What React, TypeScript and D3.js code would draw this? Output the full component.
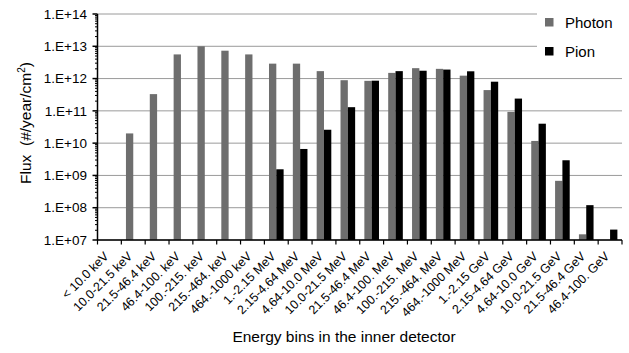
import React from 'react';
import * as d3 from 'd3';

const categories = [
  '< 10.0 keV', '10.0-21.5 keV', '21.5-46.4 keV', '46.4-100. keV', '100.-215. keV',
  '215.-464. keV', '464.-1000 keV', '1.-2.15 MeV', '2.15-4.64 MeV', '4.64-10.0 MeV',
  '10.0-21.5 MeV', '21.5-46.4 MeV', '46.4-100. MeV', '100.-215. MeV', '215.-464. MeV',
  '464.-1000 MeV', '1.-2.15 GeV', '2.15-4.64 GeV', '4.64-10.0 GeV', '10.0-21.5 GeV',
  '21.5-46.4 GeV', '46.4-100. GeV',
];

const photon: (number | null)[] = [
  null, 2.0e10, 3.3e11, 5.6e12, 1.0e13, 7.3e12, 5.6e12, 2.9e12, 2.9e12, 1.7e12, 8.9e11,
  8.5e11, 1.5e12, 2.1e12, 2.0e12, 1.23e12, 4.4e11, 9.3e10, 1.17e10, 6.8e8, 1.5e7, null,
];

const pion: (number | null)[] = [
  null, null, null, null, null, null, null, 1.55e9, 6.6e9, 2.6e10, 1.3e11,
  8.6e11, 1.7e12, 1.75e12, 1.9e12, 1.68e12, 8.0e11, 2.4e11, 4.0e10, 2.95e9, 1.2e8, 2.1e7,
];

const yTicks = [1e7, 1e8, 1e9, 1e10, 1e11, 1e12, 1e13, 1e14];
const yTickLabels = ['1.E+07', '1.E+08', '1.E+09', '1.E+10', '1.E+11', '1.E+12', '1.E+13', '1.E+14'];

const seriesNames = ['Photon', 'Pion'];
const seriesColors = ['#6e6e6e', '#000000'];

const FONT = 'Arial, "Liberation Sans", sans-serif';

const W = 629;
const H = 353;
const plot = { left: 97.5, right: 622, top: 14, bottom: 240 };
const legendLeft = 537;

export default function App() {
  const x = d3.scaleBand<string>().domain(categories).range([plot.left, plot.right]).padding(0);
  const xs = d3
    .scaleBand<string>()
    .domain(seriesNames)
    .range([0, x.bandwidth()])
    .paddingInner(0)
    .paddingOuter(0.63);
  const y = d3.scaleLog().domain([1e7, 1e14]).range([plot.bottom, plot.top]);

  // log minor ticks 2..9 per decade
  const minorTicks: number[] = [];
  for (let e = 7; e < 14; e++) {
    for (let m = 2; m <= 9; m++) minorTicks.push(m * Math.pow(10, e));
  }

  const series = [photon, pion];
  const boundaries = categories.map((c) => x(c)!).concat([plot.right]);

  return (
    <svg width={W} height={H} style={{ position: 'absolute', left: 0, top: 0, background: '#fff' }}>
      {/* gridlines */}
      {yTicks.map((t) => (
        <line
          key={'g' + t}
          x1={plot.left}
          x2={t >= 1e13 ? legendLeft : plot.right}
          y1={y(t)}
          y2={y(t)}
          stroke="#9a9a9a"
          strokeWidth={1}
        />
      ))}

      {/* bars */}
      {series.map((vals, si) =>
        vals.map((v, i) =>
          v == null ? null : (
            <rect
              key={`b${si}-${i}`}
              x={x(categories[i])! + xs(seriesNames[si])!}
              y={y(v)}
              width={xs.bandwidth()}
              height={plot.bottom - y(v)}
              fill={seriesColors[si]}
            />
          )
        )
      )}

      {/* y axis */}
      <line x1={plot.left} x2={plot.left} y1={plot.top} y2={plot.bottom} stroke="#000" strokeWidth={1.5} />
      {minorTicks.map((t) => (
        <line key={'m' + t} x1={plot.left - 2.5} x2={plot.left} y1={y(t)} y2={y(t)} stroke="#000" strokeWidth={1} />
      ))}
      {yTicks.map((t, i) => (
        <g key={'yt' + t}>
          <line x1={plot.left - 5} x2={plot.left} y1={y(t)} y2={y(t)} stroke="#000" strokeWidth={1.5} />
          <text
            x={87}
            y={y(t)}
            dy="0.35em"
            textAnchor="end"
            fontFamily={FONT}
            fontSize={13.5}
            fill="#000"
          >
            {yTickLabels[i]}
          </text>
        </g>
      ))}

      {/* x axis */}
      <line x1={plot.left} x2={plot.right} y1={plot.bottom} y2={plot.bottom} stroke="#000" strokeWidth={1.5} />
      {boundaries.map((b, i) => (
        <line key={'xt' + i} x1={b} x2={b} y1={plot.bottom} y2={plot.bottom + 4.5} stroke="#000" strokeWidth={1.2} />
      ))}
      {categories.map((c) => {
        const cx = x(c)! + x.bandwidth() / 2;
        return (
          <text
            key={'xl' + c}
            transform={`translate(${cx},${plot.bottom + 17}) rotate(-45)`}
            textAnchor="end"
            fontFamily={FONT}
            fontSize={12.5}
            fill="#000"
          >
            {c}
          </text>
        );
      })}

      {/* axis titles */}
      <text
        x={344}
        y={342}
        textAnchor="middle"
        fontFamily={FONT}
        fontSize={15.5}
        fill="#000"
      >
        Energy bins in the inner detector
      </text>
      <text
        transform={`translate(31,${(plot.top + plot.bottom) / 2 - 4}) rotate(-90)`}
        textAnchor="middle"
        fontFamily={FONT}
        fontSize={15.5}
        fill="#000"
      >
        Flux{'\u00a0\u00a0'}(#/year/cm<tspan dy={-6} fontSize={10}>2</tspan>
        <tspan dy={6}>)</tspan>
      </text>

      {/* legend */}
      {seriesNames.map((s, i) => (
        <g key={'lg' + s} transform={`translate(545,${18 + i * 29})`}>
          <rect x={0} y={0} width={8.5} height={8.5} fill={seriesColors[i]} />
          <text x={20} y={9.5} fontFamily={FONT} fontSize={15} fill="#000">
            {s}
          </text>
        </g>
      ))}
    </svg>
  );
}
